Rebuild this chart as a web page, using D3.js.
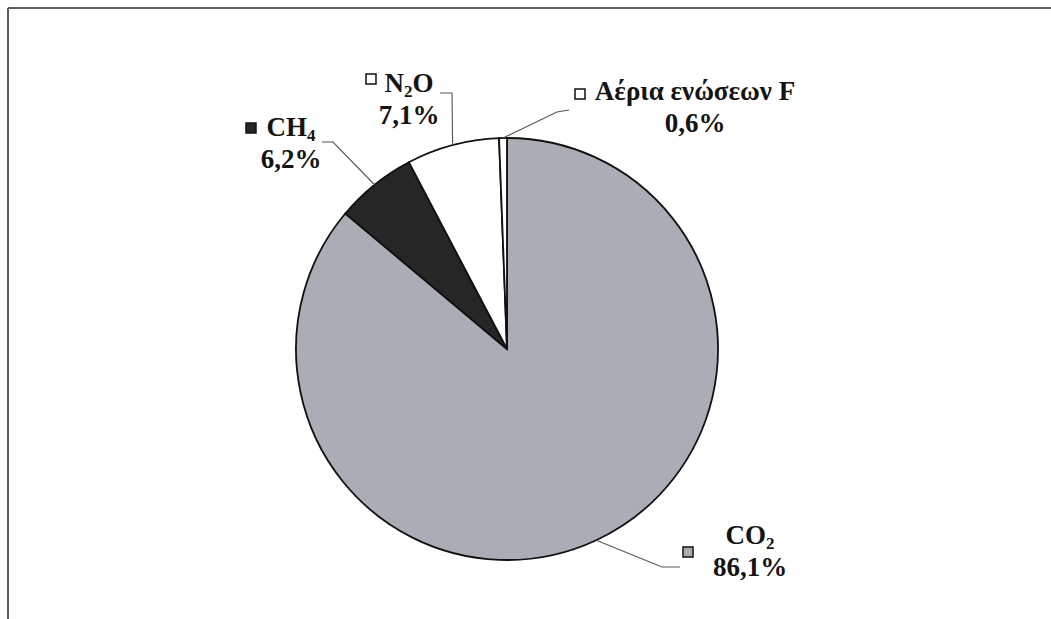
<!DOCTYPE html>
<html>
<head>
<meta charset="utf-8">
<script src="https://cdn.jsdelivr.net/npm/d3@7"></script>
<style>
  html, body { margin: 0; padding: 0; background: #ffffff; }
  svg { display: block; }
  text { font-family: "Liberation Serif", "Times New Roman", serif; font-weight: bold; fill: #141414; }
</style>
</head>
<body>
<svg id="chart" width="1051" height="619"></svg>
<script>
// Greenhouse gas shares, clockwise from 12 o'clock
const gases = ["CO2", "CH4", "N2O", "F"];
const shares = [86.1, 6.2, 7.1, 0.6];
const shareLabels = ["86,1%", "6,2%", "7,1%", "0,6%"];
// Name pieces: [main text, subscript, trailing text]
const names = [["CO", "2", ""], ["CH", "4", ""], ["N", "2", "O"], ["Αέρια ενώσεων F", "", ""]];
const fills = ["#aaacb6", "#262626", "#ffffff", "#ffffff"];

// Label layout: text centre/baseline, elbow of leader line, end of leader near the label, key square
const labelLayout = {
  CO2: { x: 750, y: 544, elbow: [662, 567], end: [680, 567], box: [683, 547] },
  CH4: { x: 291, y: 136, elbow: [333, 142], end: [322, 142], box: [246, 123] },
  N2O: { x: 409, y: 92,  elbow: [452, 93],  end: [440, 93],  box: [366, 74] },
  F:   { x: 695, y: 100, elbow: [557, 112], end: [569, 110], box: [575, 89] }
};

const svg = d3.select("#chart");
const W = 1051, H = 619;
const cx = 507, cy = 349, R = 211;
const fontSize = 27, lineGap = 32;

// frame (top and left edges visible)
svg.append("line").attr("x1", 8).attr("y1", 8).attr("x2", W).attr("y2", 8)
  .attr("stroke", "#5b5f69").attr("stroke-width", 2);
svg.append("line").attr("x1", 8).attr("y1", 8).attr("x2", 8).attr("y2", H)
  .attr("stroke", "#5b5f69").attr("stroke-width", 2);

const data = gases.map((g, i) => ({ gas: g, value: shares[i], fill: fills[i], label: shareLabels[i], name: names[i] }));
const pie = d3.pie().value(d => d.value).sort(null).startAngle(0).endAngle(2 * Math.PI);
const arcs = pie(data);
const arc = d3.arc().innerRadius(0).outerRadius(R);

const g = svg.append("g").attr("transform", `translate(${cx},${cy})`);
g.selectAll("path.slice").data(arcs).join("path")
  .attr("class", "slice")
  .attr("d", arc)
  .attr("fill", d => d.data.fill)
  .attr("stroke", "#111")
  .attr("stroke-width", 1.8)
  .attr("stroke-linejoin", "miter");

// leader lines from the arc at each slice's mid-angle
const leaders = svg.append("g");
arcs.forEach(a => {
  const mid = (a.startAngle + a.endAngle) / 2;
  const p0 = [cx + R * Math.sin(mid), cy - R * Math.cos(mid)];
  const L = labelLayout[a.data.gas];
  leaders.append("polyline")
    .attr("points", [p0, L.elbow, L.end].map(p => p.join(",")).join(" "))
    .attr("fill", "none")
    .attr("stroke", "#555")
    .attr("stroke-width", 1.1);
});

// labels
const labels = svg.append("g");
arcs.forEach(a => {
  const L = labelLayout[a.data.gas];
  const d = a.data;
  // legend key square
  labels.append("rect")
    .attr("x", L.box[0]).attr("y", L.box[1])
    .attr("width", 10).attr("height", 10)
    .attr("fill", d.fill)
    .attr("stroke", "#111").attr("stroke-width", 1.5);
  const t = labels.append("text")
    .attr("x", L.x).attr("y", L.y)
    .attr("text-anchor", "middle")
    .attr("font-size", fontSize);
  t.append("tspan").text(d.name[0]);
  if (d.name[1]) {
    t.append("tspan").attr("font-size", 17).attr("dy", 5).text(d.name[1]);
    if (d.name[2]) t.append("tspan").attr("dy", -5).text(d.name[2]);
  }
  labels.append("text")
    .attr("x", L.x).attr("y", L.y + lineGap)
    .attr("text-anchor", "middle")
    .attr("font-size", fontSize)
    .text(d.label);
});
</script>
</body>
</html>
